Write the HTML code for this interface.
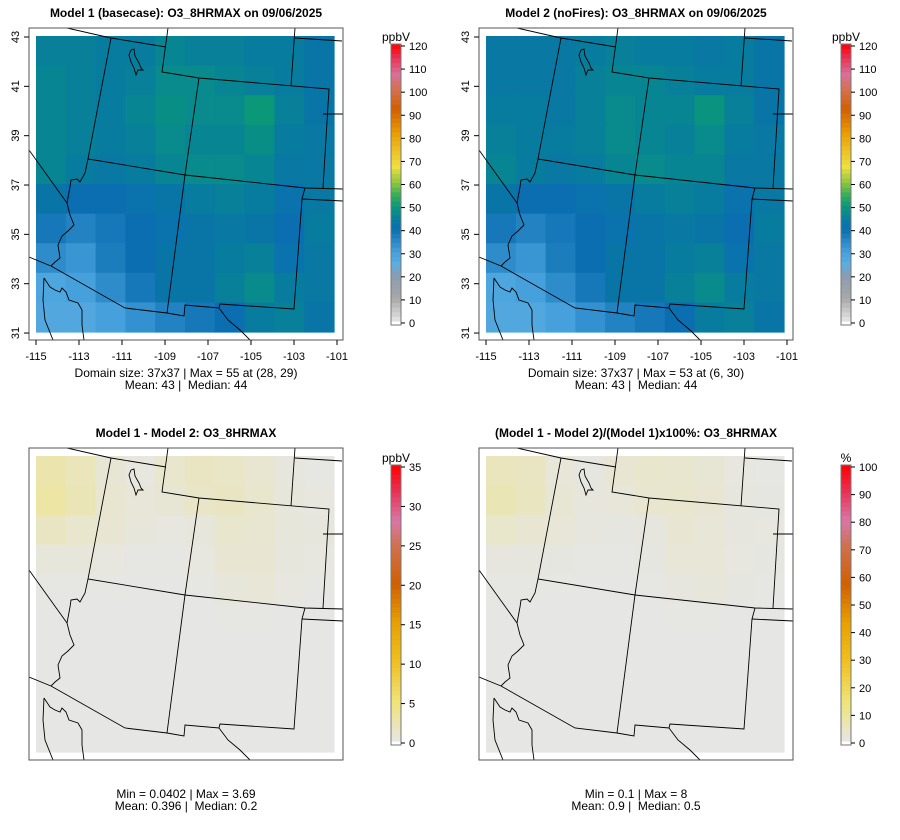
<!DOCTYPE html>
<html><head><meta charset="utf-8"><style>
html,body{margin:0;padding:0;background:#fff;}
svg{display:block;font-family:"Liberation Sans",sans-serif;}
text{white-space:pre;}
</style></head><body>
<svg id="root" width="900" height="840" viewBox="0 0 900 840">
<defs>
<g id="borders" fill="none" stroke="#000" stroke-width="0.9">
<polyline points="67,28 111,38 166,47"/>
<polyline points="168,28 162,72 199,78 329,89 323,188"/>
<polyline points="111,38 88,159 185,175 305,188 343,189"/>
<polyline points="199,78 185,175 167,313"/>
<polyline points="295,28 291,86"/>
<polyline points="295,38 342,41"/>
<polyline points="323,114 343,114"/>
<polyline points="302,199 343,201"/>
<polyline points="305,188 302,199 294,309 220,304 219,308 185,305 184,316 167,313 125,308 51,266 29,257"/>
<polyline points="29,150 67,203"/>
<polyline points="88,159 85,173 80,182 77,179 71,180 70,187 67,203 70,215 74,225 68,231 62,236 58,245 60,258 55,262 51,266"/>
<polyline points="219,308 228,320 240,330 250,340"/>
<polyline points="44,278 48,284 50,287 55,290 60,292 62,288 66,292 69,300 78,303 82,310 82,325 84,340"/>
<polyline points="44,278 43,300 45,320 53,340"/>
<polyline points="131,50 134,49 135,56 139,63 141,68 143,70 138,70 136,75 134,68 131,62 129,55 131,50"/>
</g>
<clipPath id="clipFrame"><rect x="29" y="28" width="314" height="312"/></clipPath>
</defs>
</svg>
<script>
// ---- data (10x10 coarse grids, north->south rows, west->east cols) ----
const model1 = [
[45,45,44,44,46,45,45,44,44,42],
[46,45,44,45,47,47,46,45,44,42],
[46,45,44,46,48,47,47,50,45,42],
[46,45,44,45,47,46,46,48,44,43],
[46,44,43,44,46,47,47,46,43,43],
[42,40,40,41,42,44,45,44,41,43],
[38,36,38,40,41,42,43,42,40,44],
[34,32,37,40,42,42,44,45,41,43],
[28,30,34,38,42,42,45,47,44,43],
[27,27,30,33,36,38,40,44,45,42]];
const model2 = [
[43,43,43,44,45,44,44,43,44,42],
[43,43,43,45,46,46,45,44,44,42],
[44,44,43,45,47,46,46,49,45,42],
[45,44,44,45,47,46,45,47,44,43],
[46,44,43,44,46,47,46,46,43,43],
[42,40,40,41,42,44,45,44,41,43],
[38,36,38,40,41,42,43,42,40,44],
[34,32,37,40,42,42,44,45,41,43],
[28,30,34,38,42,42,45,47,44,43],
[27,27,30,33,36,38,40,44,45,42]];
const diffVals = [
[2.6,2.0,0.8,0.3,1.2,1.6,1.4,1.0,0.4,0.2],
[3.0,2.2,1.0,0.6,0.8,1.4,1.6,1.2,0.5,0.3],
[1.6,1.2,0.9,0.5,0.3,0.5,1.2,1.0,0.5,0.4],
[0.5,0.5,0.3,0.2,0.2,0.3,0.9,0.9,0.4,0.3],
[0.2,0.2,0.2,0.1,0.1,0.2,0.5,0.7,0.3,0.2],
[0.1,0.1,0.1,0.1,0.1,0.1,0.2,0.2,0.1,0.1],
[0.1,0.1,0.1,0.1,0.1,0.1,0.1,0.1,0.1,0.1],
[0.1,0.1,0.1,0.1,0.1,0.1,0.1,0.1,0.1,0.1],
[0.1,0.1,0.1,0.1,0.1,0.1,0.1,0.1,0.1,0.1],
[0.1,0.1,0.1,0.1,0.1,0.1,0.1,0.1,0.1,0.1]];
const pctVals = [
[5.5,4.5,1.8,0.7,2.6,3.4,3.0,2.2,0.9,0.5],
[6.5,4.8,2.2,1.3,1.7,3.0,3.4,2.6,1.1,0.7],
[3.5,2.6,2.0,1.1,0.6,1.1,2.5,2.0,1.1,0.9],
[1.1,1.1,0.7,0.4,0.4,0.6,1.9,1.9,0.9,0.7],
[0.4,0.4,0.4,0.2,0.2,0.4,1.1,1.5,0.7,0.4],
[0.2,0.2,0.2,0.2,0.2,0.2,0.4,0.4,0.2,0.2],
[0.2,0.2,0.2,0.2,0.2,0.2,0.2,0.2,0.2,0.2],
[0.2,0.2,0.2,0.2,0.2,0.2,0.2,0.2,0.2,0.2],
[0.2,0.2,0.2,0.2,0.2,0.2,0.2,0.2,0.2,0.2],
[0.2,0.2,0.2,0.2,0.2,0.2,0.2,0.2,0.2,0.2]];
const lonTicks = [-115,-113,-111,-109,-107,-105,-103,-101];
const latTicks = [43,41,39,37,35,33,31];
const cbTicksO3 = [0,10,20,30,40,50,60,70,80,90,100,110,120];
const cbTicksDiff = [0,5,10,15,20,25,30,35];
const cbTicksPct = [0,10,20,30,40,50,60,70,80,90,100];

const NS='http://www.w3.org/2000/svg';
const root=document.getElementById('root');
function mk(tag,attrs,parent){const e=document.createElementNS(NS,tag);for(const k in attrs)e.setAttribute(k,attrs[k]);(parent||root).appendChild(e);return e;}
function hex(c){return [parseInt(c.slice(1,3),16),parseInt(c.slice(3,5),16),parseInt(c.slice(5,7),16)];}
function makeScale(stops){return v=>{if(v<=stops[0][0])return stops[0][1];for(let i=1;i<stops.length;i++){if(v<=stops[i][0]){const a=stops[i-1],b=stops[i];const t=(v-a[0])/(b[0]-a[0]);const ca=hex(a[1]),cb=hex(b[1]);return 'rgb('+ca.map((x,j)=>Math.round(x+(cb[j]-x)*t)).join(',')+')';}}return stops[stops.length-1][1];};}
const o3Color=makeScale([[0,'#e6e6e6'],[10,'#a8a8a8'],[20,'#8a9cb0'],[25,'#5aaee0'],[30,'#46a0dc'],[40,'#0a6eb0'],[45,'#08809a'],[50,'#0a9878'],[55,'#3aae58'],[60,'#8cc63e'],[67,'#eee040'],[75,'#ecbc20'],[82,'#e89a00'],[92,'#d25e00'],[100,'#d4704a'],[107,'#d8709a'],[114,'#e83458'],[120,'#ff0000']]);
function relScale(max){return makeScale([[0,'#e6e6e6'],[max*0.14,'#efe47a'],[max*0.29,'#f0c020'],[max*0.43,'#e8a000'],[max*0.57,'#d06000'],[max*0.71,'#d07050'],[max*0.8,'#d878a8'],[max*0.9,'#e83458'],[max,'#ff0000']]);}
const diffColor=relScale(35), pctColor=relScale(100);

function panel(ox,oy,name,grid,colorFn,title,axes,lines,cb){
  const g=mk('g',{transform:'translate('+ox+','+oy+')'});
  
  
  const t=mk('text',{x:186,y:17,'text-anchor':'middle','font-size':12,'font-weight':'bold'},g);
  
  
  t.textContent=title;
  const mx=36,my=36,mw=298,mh=296,n=grid.length,m=grid[0].length;
  const cells=mk('g',{},g);
  
  
  for(let r=0;r<n;r++)for(let c=0;c<m;c++){
    const x0=mx+c*mw/m,y0=my+r*mh/n;
    const rc=mk('rect',{x:x0.toFixed(2),y:y0.toFixed(2),width:(mw/m+0.6).toFixed(2),height:(mh/n+0.6).toFixed(2),fill:colorFn(grid[r][c])},cells);
    
    
  }
  const bg=mk('g',{'clip-path':'url(#clipFrame)'},g);
  const u=mk('use',{href:'#borders'},bg);
  
  
  const fr=mk('rect',{x:29,y:28,width:314,height:312,fill:'none',stroke:'#555','stroke-width':1},g);
  
  
  if(axes){
    const xs=lon=>36+(lon+115)*21.5, ys=lat=>37+(43-lat)*24.67;
    lonTicks.forEach(v=>{mk('line',{x1:xs(v),x2:xs(v),y1:340,y2:345,stroke:'#000'},g);
      const tx=mk('text',{x:xs(v),y:360,'text-anchor':'middle','font-size':11},g);
      
      
      tx.textContent=v;});
    latTicks.forEach(v=>{mk('line',{x1:24,x2:29,y1:ys(v),y2:ys(v),stroke:'#000'},g);
      const tx=mk('text',{x:0,y:0,'text-anchor':'middle','font-size':11,transform:'translate(19,'+ys(v)+') rotate(-90)'},g);
      
      
      tx.textContent=v;});
  }
  lines.forEach((s,i)=>{const tx=mk('text',{x:186,y:377+i*12,'text-anchor':'middle','font-size':12},g);
    
    
    tx.textContent=s;});
  const cbg=mk('g',{},g);
  
  
  const y0=cb.y0,y1=cb.y1,max=cb.max,steps=60;
  for(let i=0;i<steps;i++){const v=(i+0.5)/steps*max;
    mk('rect',{x:391,y:(y1-(i+1)/steps*(y1-y0)-cb.pad).toFixed(2),width:10,height:((y1-y0)/steps+0.6).toFixed(2),fill:cb.fn(v)},cbg);}
  mk('rect',{x:391,y:y0-cb.pad,width:10,height:y1-y0+2*cb.pad,fill:'none',stroke:'#777'},cbg);
  cb.ticks.forEach(v=>{const yy=y1-v/max*(y1-y0);
    mk('line',{x1:401,x2:405,y1:yy,y2:yy,stroke:'#000'},cbg);
    const tx=mk('text',{x:409,y:yy+4,'font-size':11},cbg);
    
    
    tx.textContent=v;});
  const ut=mk('text',{x:396,y:y0-cb.pad-3,'text-anchor':'middle','font-size':12},cbg);
  
  
  ut.textContent=cb.unit;
}
panel(0,0,'panel-model1',model1,o3Color,'Model 1 (basecase): O3_8HRMAX on 09/06/2025',true,
  ['Domain size: 37x37 | Max = 55 at (28, 29)','Mean: 43 |  Median: 44'],
  {y0:46,y1:323,max:120,fn:o3Color,ticks:cbTicksO3,unit:'ppbV',pad:2});
panel(450,0,'panel-model2',model2,o3Color,'Model 2 (noFires): O3_8HRMAX on 09/06/2025',true,
  ['Domain size: 37x37 | Max = 53 at (6, 30)','Mean: 43 |  Median: 44'],
  {y0:46,y1:323,max:120,fn:o3Color,ticks:cbTicksO3,unit:'ppbV',pad:2});
panel(0,420,'panel-difference',diffVals,diffColor,'Model 1 - Model 2: O3_8HRMAX',false,[],
  {y0:47,y1:323,max:35,fn:diffColor,ticks:cbTicksDiff,unit:'ppbV',pad:2});
panel(450,420,'panel-percent-difference',pctVals,pctColor,'(Model 1 - Model 2)/(Model 1)x100%: O3_8HRMAX',false,[],
  {y0:47,y1:323,max:100,fn:pctColor,ticks:cbTicksPct,unit:'%',pad:2});
[[186,'Min = 0.0402 | Max = 3.69','Mean: 0.396 |  Median: 0.2'],[636,'Min = 0.1 | Max = 8','Mean: 0.9 |  Median: 0.5']].forEach(d=>{
  [d[1],d[2]].forEach((s,i)=>{const tx=mk('text',{x:d[0],y:798+i*12,'text-anchor':'middle','font-size':12});
    
    
    tx.textContent=s;});
});
</script>
</body></html>
